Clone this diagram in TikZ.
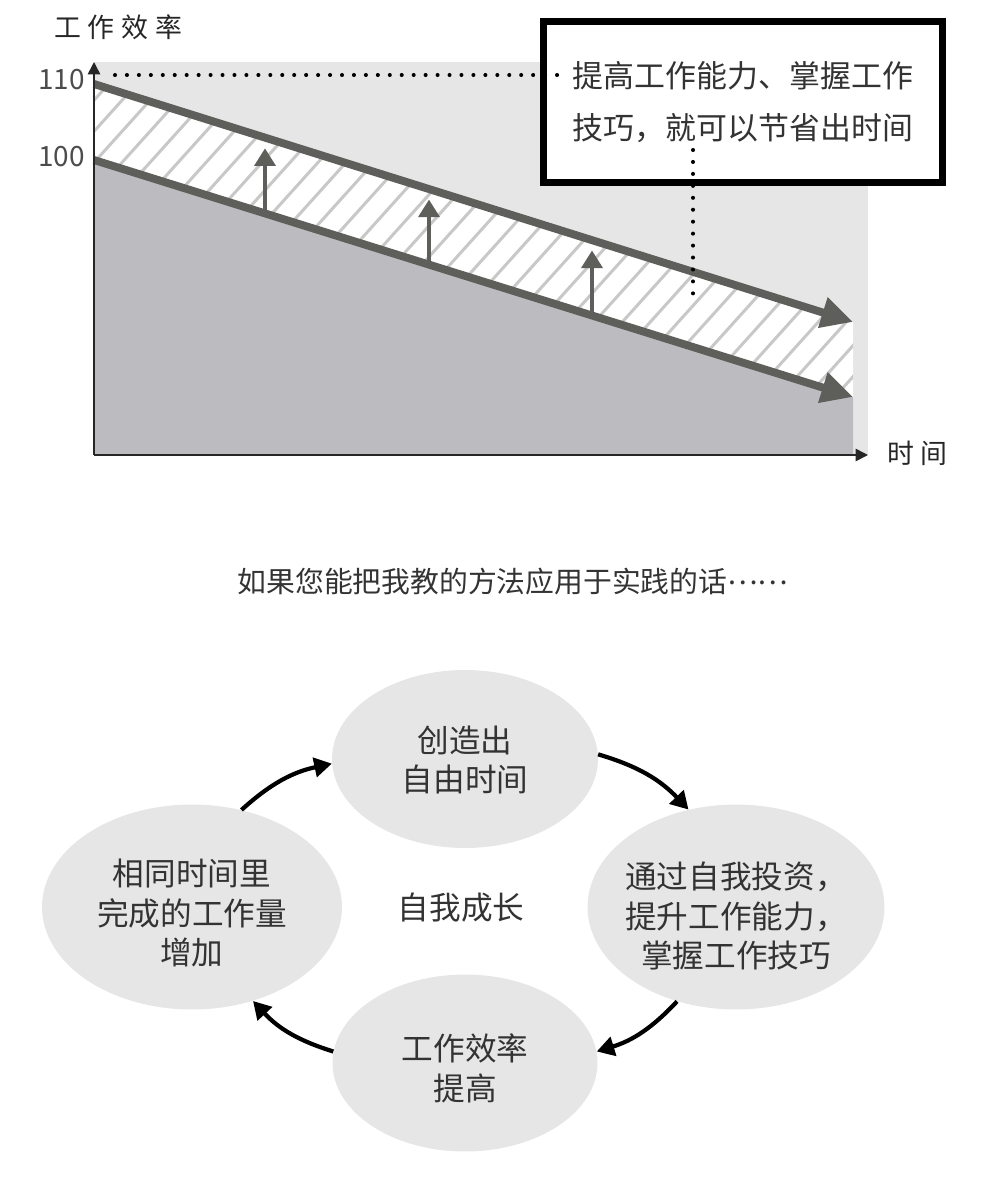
\documentclass[tikz,border=0pt]{standalone}
\usepackage{fontspec}
\newfontfamily\cjk{Noto Sans CJK SC}
\newfontfamily\cjkwide{Noto Sans CJK SC}[LetterSpace=25]
\usepackage{tikz}
\usetikzlibrary{arrows.meta, shapes.geometric}
\definecolor{bglight}{HTML}{E6E6E6}
\definecolor{bgdark}{HTML}{BCBBBF}
\definecolor{linegray}{HTML}{5E5F5A}
\definecolor{hatchgray}{HTML}{C8C8C8}
\definecolor{txtgray}{HTML}{333333}

\begin{document}
\begin{tikzpicture}[x=0.02cm, y=-0.02cm,
    trend/.style={line width=4.5pt, linegray, -{Triangle[length=18pt, width=17pt]}},
    rise/.style={line width=2pt, linegray, -{Triangle[length=10pt, width=12pt]}},
    axis/.style={line width=0.9pt, black!85, -{Triangle[length=7pt, width=7pt]}},
    dots/.style={line width=2.3pt, dash pattern=on 0pt off 6.8pt, line cap=round},
    hatchline/.style={line width=1.7pt, hatchgray},
    axislbl/.style={font=\cjkwide\fontsize{15.3pt}{18pt}\selectfont, text=black!85, inner sep=0pt},
    num/.style={font=\cjk\fontsize{15.9pt}{18pt}\selectfont, text=black!70, inner sep=0pt},
    notebox/.style={draw, line width=4pt, fill=white, minimum width=7.98cm, minimum height=3.22cm,
        align=left, font=\cjk\fontsize{17.6pt}{29.5pt}\selectfont, text=txtgray},
    bubble/.style={ellipse, fill=bglight, inner sep=0pt},
    lbl/.style={font=\cjk\fontsize{18pt}{22.7pt}\selectfont, text=txtgray, align=center},
    cyc/.style={line width=2.4pt, -{Triangle[length=10pt, width=11pt]}, bend left=15}
]
    \useasboundingbox (0,0) rectangle (1000,1204);

    \coordinate (O) at (94,455);
    \coordinate (ytop) at (94,62);
    \coordinate (xend) at (868,455);
    \coordinate (hi0) at (94,84);
    \coordinate (hi1) at (853,322);
    \coordinate (lo0) at (94,160);
    \coordinate (lo1) at (853,397);

    \fill[bglight] (ytop) rectangle (xend);
    \fill[bgdark] (lo0) -- (lo1) -- (853,455) -- (O) -- cycle;
    \begin{scope}
        \clip (hi0) -- (hi1) -- (lo1) -- (lo0) -- cycle;
        \fill[white] (hi0) -- (hi1) -- (lo1) -- (lo0) -- cycle;
        \foreach \k in {0,...,40} {
            \draw[hatchline] (-250+\k*28,420) -- ++(300,-333);
        }
    \end{scope}

    \foreach \x in {265,429,592} {
        \draw[rise] (\x,{160+(\x-94)*0.3123}) -- (\x,{95+(\x-94)*0.3123});
    }
    \draw[trend] (hi0) -- (hi1);
    \draw[trend] (lo0) -- (lo1);
    \draw[axis] (O) -- (ytop);
    \draw[axis] (O) -- (xend);

    \node[axislbl, anchor=west] (ylab) at (54,27) {工作效率};
    \node[axislbl, anchor=west] (xlab) at (887,453) {时间};
    \node[num, anchor=east] (v110) at (85,80) {110};
    \node[num, anchor=east] (v100) at (85,157) {100};

    \node[notebox] (note) at (743,102) {提高工作能力、掌握工作\\技巧，就可以节省出时间};
    \coordinate (lvl) at (115,75);
    \coordinate (lvlend) at (568,75);
    \coordinate (gap0) at (693,150);
    \coordinate (gap1) at (693,298);
    \draw[dots] (lvl) -- (lvlend);
    \draw[dots] (gap0) -- (gap1);

    \node[font=\cjk\fontsize{16.4pt}{20pt}\selectfont, text=txtgray] (cap) at (513,582)
        {如果您能把我教的方法应用于实践的话\raisebox{0.3em}{⋯⋯}};

    \node[bubble, minimum width=5.32cm, minimum height=3.56cm] (top) at (465,759) {};
    \node[bubble, minimum width=6cm, minimum height=4.1cm] (lft) at (192,907) {};
    \node[bubble, minimum width=5.94cm, minimum height=4.1cm] (rgt) at (736,907) {};
    \node[bubble, minimum width=5.3cm, minimum height=3.54cm] (bot) at (465,1063) {};

    \node[lbl] (toptxt) at (465,760) {创造出\\自由时间};
    \node[lbl] (lfttxt) at (192,913) {相同时间里\\完成的工作量\\增加};
    \node[lbl] (rgttxt) at (736,916) {通过自我投资，\\提升工作能力，\\掌握工作技巧};
    \node[lbl] (bottxt) at (465,1068) {工作效率\\提高};
    \node[lbl] (mid) at (461,908) {自我成长};

    \draw[cyc] (lft.63) to (top.182);
    \draw[cyc] (top.2) to (rgt.116);
    \draw[cyc] (rgt.238) to (bot.5);
    \draw[cyc] (bot.175) to (lft.303);
\end{tikzpicture}
\end{document}
